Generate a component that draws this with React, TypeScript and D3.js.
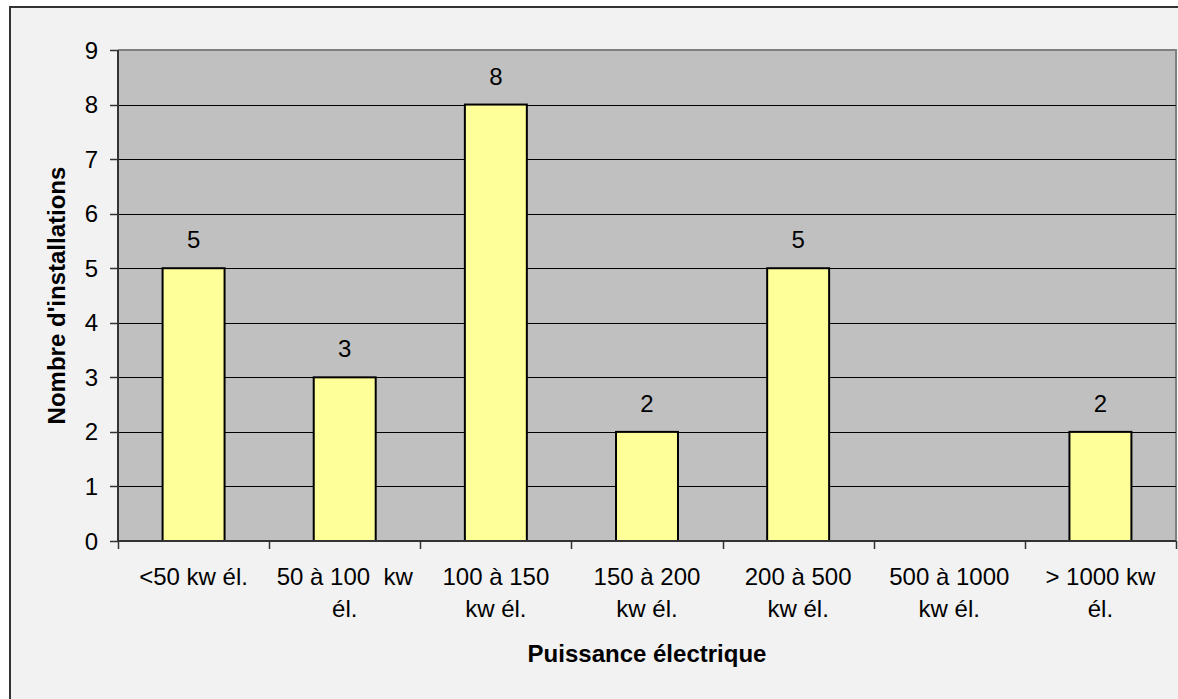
import React from "react";
import * as d3 from "d3";

const categories = ["<50 kw él.", "50 à 100  kw él.", "100 à 150 kw él.", "150 à 200 kw él.", "200 à 500 kw él.", "500 à 1000 kw él.", "> 1000 kw él."];
const labelLines = [
  ["<50 kw él."],
  ["50 à 100  kw", "él."],
  ["100 à 150", "kw él."],
  ["150 à 200", "kw él."],
  ["200 à 500", "kw él."],
  ["500 à 1000", "kw él."],
  ["> 1000 kw", "él."],
];
const values = [5, 3, 8, 2, 5, 0, 2];
const yTicks = [0, 1, 2, 3, 4, 5, 6, 7, 8, 9];

const W = 1178;
const H = 699;
const plot = { left: 118, top: 50, right: 1176, bottom: 541 };
const FONT = "Liberation Sans, Arial, sans-serif";
const FS = 24;

export default function App() {
  const x = d3
    .scaleBand<string>()
    .domain(categories)
    .range([plot.left, plot.right])
    .paddingInner(0.59)
    .paddingOuter(0.295);
  const step = x.step();
  const y = d3.scaleLinear().domain([0, 9]).range([plot.bottom, plot.top]);

  return (
    <svg
      width={W}
      height={H}
      style={{ position: "absolute", left: 0, top: 0, display: "block" }}
      fontFamily={FONT}
    >
      <rect x={0} y={0} width={W} height={H} fill="#ffffff" />
      <rect x={10} y={7} width={W + 20} height={H + 20} fill="#f2f2f2" stroke="#333333" strokeWidth={2} />
      <rect
        x={plot.left}
        y={plot.top}
        width={plot.right - plot.left}
        height={plot.bottom - plot.top}
        fill="#c0c0c0"
      />
      <path
        d={`M${plot.left},${plot.top}H${plot.right}V${plot.bottom}`}
        fill="none"
        stroke="#808080"
        strokeWidth={2}
      />
      {yTicks
        .filter((t) => t > 0 && t < 9)
        .map((t) => (
          <line key={t} x1={plot.left} x2={plot.right} y1={Math.round(y(t)) + 0.5} y2={Math.round(y(t)) + 0.5} stroke="#000" strokeWidth={1} />
        ))}
      {yTicks.map((t) => (
        <g key={"yt" + t}>
          <line x1={plot.left - 8} x2={plot.left} y1={Math.round(y(t)) + 0.5} y2={Math.round(y(t)) + 0.5} stroke="#333" strokeWidth={1.5} />
          <text x={98} y={y(t) + 8.5} textAnchor="end" fontSize={FS} fill="#000">
            {t}
          </text>
        </g>
      ))}
      {values.map((v, i) => {
        const c = categories[i];
        if (v <= 0) return null;
        return (
          <g key={"b" + i}>
            <rect
              x={x(c)!}
              y={y(v)}
              width={x.bandwidth()}
              height={y(0) - y(v)}
              fill="#ffff99"
              stroke="#000"
              strokeWidth={2}
            />
            <text x={x(c)! + x.bandwidth() / 2} y={y(v) - 20} textAnchor="middle" fontSize={FS} fill="#000">
              {v}
            </text>
          </g>
        );
      })}
      <line x1={plot.left} x2={plot.left} y1={plot.top} y2={plot.bottom} stroke="#333" strokeWidth={2} />
      <line x1={plot.left} x2={plot.right} y1={plot.bottom} y2={plot.bottom} stroke="#333" strokeWidth={2} />
      {d3.range(categories.length + 1).map((i) => {
        const xx = Math.round(plot.left + i * step) + 0.5;
        return <line key={"xt" + i} x1={xx} x2={xx} y1={plot.bottom} y2={plot.bottom + 8} stroke="#333" strokeWidth={1.5} />;
      })}
      {labelLines.map((lines, i) => {
        const cx = x(categories[i])! + x.bandwidth() / 2;
        return (
          <text key={"xl" + i} textAnchor="middle" fontSize={FS} fill="#000" style={{ whiteSpace: "pre" }}>
            {lines.map((l, j) => (
              <tspan key={j} x={cx} y={585 + j * 32}>
                {l}
              </tspan>
            ))}
          </text>
        );
      })}
      <text x={(plot.left + plot.right) / 2} y={662} textAnchor="middle" fontSize={FS} fontWeight="bold" fill="#000">
        Puissance électrique
      </text>
      <text
        transform={`translate(65,${(plot.top + plot.bottom) / 2}) rotate(-90)`}
        textAnchor="middle"
        fontSize={FS}
        fontWeight="bold"
        fill="#000"
      >
        Nombre d'installations
      </text>
    </svg>
  );
}
